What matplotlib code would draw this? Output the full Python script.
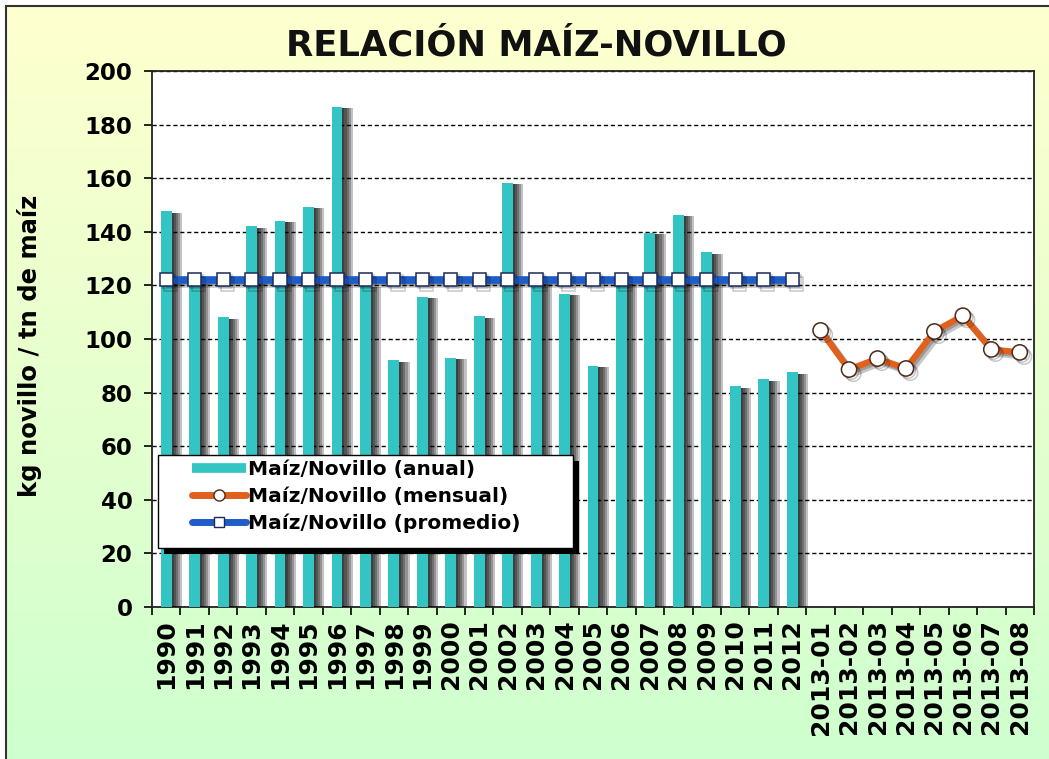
import numpy as np
import matplotlib
matplotlib.use('Agg')
import matplotlib.pyplot as plt
from matplotlib import patheffects as pe
from matplotlib.lines import Line2D
from matplotlib.patches import Rectangle

# relación anual (kg novillo / tn de maíz)
years = [str(y) for y in range(1990, 2013)]
anual = [147.6, 121.0, 108.1, 142.0, 144.0, 149.3, 186.7, 120.0, 92.0, 115.8,
         93.0, 108.4, 158.2, 121.0, 116.9, 90.0, 121.0, 139.7, 146.3, 132.3,
         82.3, 85.0, 87.6]

# relación mensual 2013
months = ['2013-01', '2013-02', '2013-03', '2013-04',
          '2013-05', '2013-06', '2013-07', '2013-08']
mensual = [103.2, 88.6, 92.7, 89.0, 102.8, 108.7, 96.1, 95.0]

# promedio del periodo 1990-2012
promedio = 122.1

labels = years + months
teal = '#35C4C4'
orange = '#E0601C'
blue = '#1E5CC8'

plt.rcParams['font.family'] = 'DejaVu Sans'
plt.rcParams['font.weight'] = 'bold'

fig = plt.figure(figsize=(10.49, 7.59), dpi=100)
fig.patch.set_facecolor('white')

# fondo degradado amarillo -> verde
bg = fig.add_axes([6 / 1049, 0, 1, 1 - 6 / 759], zorder=-10)
top = np.array([1.0, 1.0, 0.81])
bot = np.array([0.81, 1.0, 0.81])
t = np.linspace(0, 1, 256)[:, None]
grad = (top * (1 - t) + bot * t)[:, None, :]
bg.imshow(grad, aspect='auto', extent=[0, 1, 0, 1])
bg.axis('off')
fig.patches.append(Rectangle((6 / 1049, -0.05), 1.2, 1.05 - 6 / 759,
                             transform=fig.transFigure, fill=False,
                             ec='#333333', lw=1.5))

ax = fig.add_axes([152 / 1049, 1 - 607 / 759, 882 / 1049, 536 / 759])
ax.set_facecolor('white')

x = np.arange(len(labels))
xa = x[:len(years)]
xm = x[len(years):]

shadow_bar = [pe.SimplePatchShadow(offset=(o, -1), shadow_rgbFace='k', alpha=0.24)
              for o in (1.5, 3, 4.5, 6, 7.5)] + [pe.Normal()]
bars = ax.bar(xa, anual, width=0.38, color=teal, zorder=3)
for b in bars:
    b.set_path_effects(shadow_bar)

shadow_line = [pe.SimpleLineShadow(offset=(o, -o), shadow_color='k', alpha=0.22)
               for o in (1.5, 3)] + [pe.Normal()]
avg_line, = ax.plot(xa, [promedio] * len(xa), color=blue, lw=5.5, marker='s',
                    ms=9.5, mfc='white', mec='#1a2a5a', mew=1.1, zorder=4)
avg_line.set_path_effects(shadow_line)
mes_line, = ax.plot(xm, mensual, color=orange, lw=4.5, marker='o', ms=11,
                    mfc='white', mec='#4a2a18', mew=1.1, zorder=4)
mes_line.set_path_effects(shadow_line)

ax.set_xlim(-0.5, len(labels) - 0.5)
ax.set_ylim(0, 200)
ax.set_yticks(range(0, 201, 20))
ax.set_xticks(x)
ax.set_xticklabels(labels, rotation=90)
ax.set_xticks(np.arange(-0.5, len(labels), 1), minor=True)
ax.tick_params(axis='y', direction='out', length=6, width=1.2, pad=8, labelsize=16.5)
ax.tick_params(axis='x', which='major', length=0, pad=9, labelsize=18)
ax.tick_params(axis='x', which='minor', direction='out', length=6, width=1.2)
ax.yaxis.grid(True, linestyle=(0, (3, 2)), color='black', lw=1)
ax.set_axisbelow(True)
for s in ax.spines.values():
    s.set_linewidth(1.3)
    s.set_color('#222222')

ax.set_ylabel('kg novillo / tn de maíz', fontsize=17.5, fontweight='bold')
ax.yaxis.set_label_coords(-0.125, 0.487)

fig.text(0.511, 1 - 46 / 759, 'RELACIÓN MAÍZ-NOVILLO', ha='center', va='center',
         fontsize=25.5, fontweight='bold', color='#111111')

# leyenda con marco y sombra negra
frame = Rectangle(((158 - 152) / 882, (607 - 548) / 536), (573 - 158) / 882,
                  (548 - 455) / 536, transform=ax.transAxes, facecolor='white',
                  edgecolor='black', lw=1, zorder=6, clip_on=False)
frame.set_path_effects([pe.SimplePatchShadow(offset=(4, -4), shadow_rgbFace='k',
                                             alpha=1), pe.Normal()])
ax.add_patch(frame)

h1 = Line2D([], [], color=teal, lw=7, solid_capstyle='butt')
h2 = Line2D([], [], color=orange, lw=5, marker='o', ms=8, mfc='white',
            mec='#4a2a18', mew=1, solid_capstyle='round')
h3 = Line2D([], [], color=blue, lw=5, marker='s', ms=7, mfc='white',
            mec='#1a2a5a', mew=1, solid_capstyle='round')
leg = ax.legend([h1, h2, h3],
                ['Maíz/Novillo (anual)', 'Maíz/Novillo (mensual)',
                 'Maíz/Novillo (promedio)'],
                loc='upper left', bbox_to_anchor=((188 - 152) / 882, (607 - 456) / 536),
                borderaxespad=0, borderpad=0.2, frameon=False, handlelength=2.7,
                handletextpad=0.1, labelspacing=0.38, numpoints=1,
                prop=dict(weight='bold', size=14.5))
leg.set_zorder(7)

fig.savefig('out.png', dpi=100)
